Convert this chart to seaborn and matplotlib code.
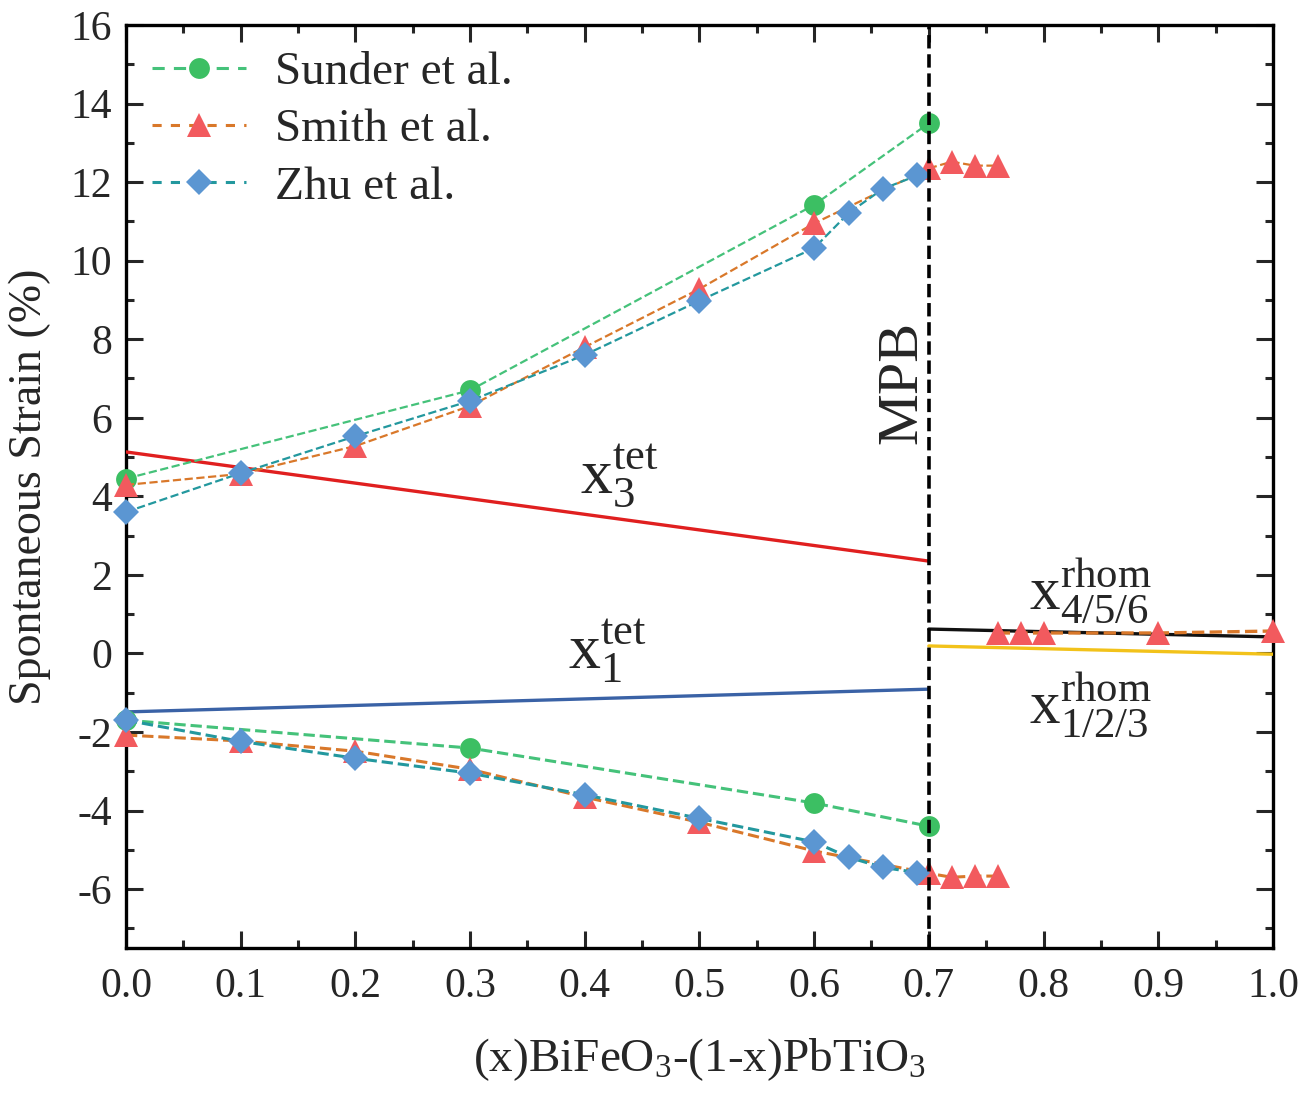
import matplotlib
matplotlib.use("Agg")
import matplotlib.pyplot as plt
import seaborn as sns
import numpy as np
from matplotlib.ticker import MultipleLocator
from matplotlib.lines import Line2D

# ---------------- data ----------------
sunder_top_x = [0.0, 0.3, 0.6, 0.7]
sunder_top_y = [4.45, 6.7, 11.42, 13.5]
sunder_bot_x = [0.0, 0.3, 0.6, 0.7]
sunder_bot_y = [-1.7, -2.41, -3.81, -4.4]

smith_top_x = [0.0, 0.1, 0.2, 0.3, 0.4, 0.5, 0.6, 0.7, 0.72, 0.74, 0.76]
smith_top_y = [4.29, 4.57, 5.28, 6.3, 7.8, 9.28, 10.95, 12.35, 12.52, 12.42, 12.42]
smith_bot_x = [0.0, 0.1, 0.2, 0.3, 0.4, 0.5, 0.6, 0.7, 0.72, 0.74, 0.76]
smith_bot_y = [-2.08, -2.23, -2.49, -2.95, -3.66, -4.3, -5.03, -5.6, -5.7, -5.67, -5.67]
smith_rh_x = [0.76, 0.78, 0.8, 0.9, 1.0]
smith_rh_y = [0.52, 0.52, 0.52, 0.52, 0.57]

zhu_top_x = [0.0, 0.1, 0.2, 0.3, 0.4, 0.5, 0.6, 0.63, 0.66, 0.69]
zhu_top_y = [3.6, 4.59, 5.53, 6.43, 7.6, 8.98, 10.32, 11.21, 11.83, 12.17]
zhu_bot_x = [0.0, 0.1, 0.2, 0.3, 0.4, 0.5, 0.6, 0.63, 0.66, 0.69]
zhu_bot_y = [-1.7, -2.24, -2.67, -3.05, -3.6, -4.2, -4.8, -5.19, -5.45, -5.58]

x3tet_x = [0.0, 0.7]
x3tet_y = [5.13, 2.35]
x1tet_x = [0.0, 0.7]
x1tet_y = [-1.49, -0.91]
x456_x = [0.7, 1.0]
x456_y = [0.62, 0.42]
x123_x = [0.7, 1.0]
x123_y = [0.19, -0.02]

mpb_x = [0.7, 0.7]
mpb_y = [-7.5, 16.0]

legend_labels = ["Sunder et al.", "Smith et al.", "Zhu et al."]
x_ticks = [0.0, 0.1, 0.2, 0.3, 0.4, 0.5, 0.6, 0.7, 0.8, 0.9, 1.0]
y_ticks = [-6, -4, -2, 0, 2, 4, 6, 8, 10, 12, 14, 16]

# ---------------- style ----------------
sns.set_theme(style="ticks")
plt.rcParams['font.family'] = ['Liberation Serif', 'DejaVu Serif']
plt.rcParams['mathtext.fontset'] = 'custom'
plt.rcParams['mathtext.rm'] = 'Liberation Serif'
plt.rcParams['mathtext.it'] = 'Liberation Serif'
plt.rcParams['mathtext.bf'] = 'Liberation Serif:bold'

fig = plt.figure(figsize=(13.15, 10.93), dpi=100)
ax = fig.add_axes([0.0958, 0.1327, 0.8722, 0.8444])

c_green_m = "#3cbf63"
c_green_l = "#45c27a"
c_red_m = "#f25a5e"
c_orange_l = "#d9782a"
c_blue_m = "#5b96d2"
c_teal_l = "#23989e"

def series(x, y, lc, mc, marker, ms, dashes=(4, 3), lw=1.6):
    sns.lineplot(x=x, y=y, ax=ax, color=lc, linestyle='--', dashes=dashes, lw=lw,
                 marker=marker, markersize=ms, markerfacecolor=mc, markeredgecolor=mc,
                 markeredgewidth=0, clip_on=False, zorder=4,
                 legend=False, sort=True)

# linear model lines
sns.lineplot(x=x3tet_x, y=x3tet_y, ax=ax, color="#e01f1f", lw=2.4, zorder=3, legend=False)
sns.lineplot(x=x1tet_x, y=x1tet_y, ax=ax, color="#3a62a6", lw=2.4, zorder=3, legend=False)
sns.lineplot(x=x456_x, y=x456_y, ax=ax, color="#111111", lw=2.4, zorder=3, legend=False)
sns.lineplot(x=x123_x, y=x123_y, ax=ax, color="#f2c21a", lw=2.4, zorder=3, legend=False)

# experimental data
series(sunder_top_x, sunder_top_y, c_green_l, c_green_m, 'o', 15)
series(sunder_bot_x, sunder_bot_y, c_green_l, c_green_m, 'o', 15, dashes=(5, 3), lw=2.2)
series(smith_top_x, smith_top_y, c_orange_l, c_red_m, '^', 17)
series(smith_bot_x, smith_bot_y, c_orange_l, c_red_m, '^', 17, lw=2.2)
series(smith_rh_x, smith_rh_y, c_orange_l, c_red_m, '^', 17, lw=2.4)
series(zhu_top_x, zhu_top_y, c_teal_l, c_blue_m, 'D', 13)
series(zhu_bot_x, zhu_bot_y, c_teal_l, c_blue_m, 'D', 13, lw=2.2)

# MPB line
sns.lineplot(x=mpb_x, y=mpb_y, ax=ax, color="black", lw=2.6, linestyle='--',
             dashes=(5, 4), zorder=5, legend=False, sort=False, estimator=None)

ax.set_xlim(0.0, 1.0)
ax.set_ylim(-7.5, 16)
ax.set_xticks(x_ticks)
ax.set_xticklabels([f"{v:.1f}" for v in x_ticks])
ax.set_yticks(y_ticks)
ax.set_yticklabels([str(v) for v in y_ticks])
ax.xaxis.set_minor_locator(MultipleLocator(0.05))
ax.yaxis.set_minor_locator(MultipleLocator(1))

ax.tick_params(which='both', direction='in', top=True, right=True, width=2.2,
               labelsize=30, pad=14)
ax.tick_params(axis='y', pad=10)
ax.tick_params(which='major', length=12)
ax.tick_params(which='minor', length=6)
for sp in ax.spines.values():
    sp.set_linewidth(2.4)
    sp.set_color("black")

ax.set_xlabel(r"(x)BiFeO$_3$-(1-x)PbTiO$_3$", fontsize=34, labelpad=22)
ax.set_ylabel("Spontaneous Strain (%)", fontsize=33, labelpad=14)

# annotations
ax.text(0.43, 4.5, r"$\mathrm{x}_{3}^{\mathrm{tet}}$", fontsize=46, ha='center', va='center')
ax.text(0.42, 0.05, r"$\mathrm{x}_{1}^{\mathrm{tet}}$", fontsize=46, ha='center', va='center')
ax.text(0.841, 1.6, r"$\mathrm{x}_{4/5/6}^{\mathrm{rhom}}$", fontsize=44, ha='center', va='center')
ax.text(0.841, -1.3, r"$\mathrm{x}_{1/2/3}^{\mathrm{rhom}}$", fontsize=44, ha='center', va='center')
ax.text(0.677, 6.9, "MPB", fontsize=42, rotation=90, ha='center', va='center')

# legend
handles = [
    Line2D([], [], color=c_green_l, ls='--', dashes=(4, 3), lw=2.2, marker='o', markersize=15,
           markerfacecolor=c_green_m, markeredgewidth=0),
    Line2D([], [], color=c_orange_l, ls='--', dashes=(3, 3), lw=2.2, marker='^', markersize=17,
           markerfacecolor=c_red_m, markeredgewidth=0),
    Line2D([], [], color=c_teal_l, ls='--', dashes=(3, 3), lw=2.2, marker='D', markersize=13,
           markerfacecolor=c_blue_m, markeredgewidth=0),
]
ax.legend(handles, legend_labels, loc='upper left', frameon=False, fontsize=34,
          handlelength=2.0, handletextpad=0.6, labelspacing=0.3,
          bbox_to_anchor=(0.0, 1.0), borderaxespad=0.15)

fig.savefig("out.png", dpi=100)
